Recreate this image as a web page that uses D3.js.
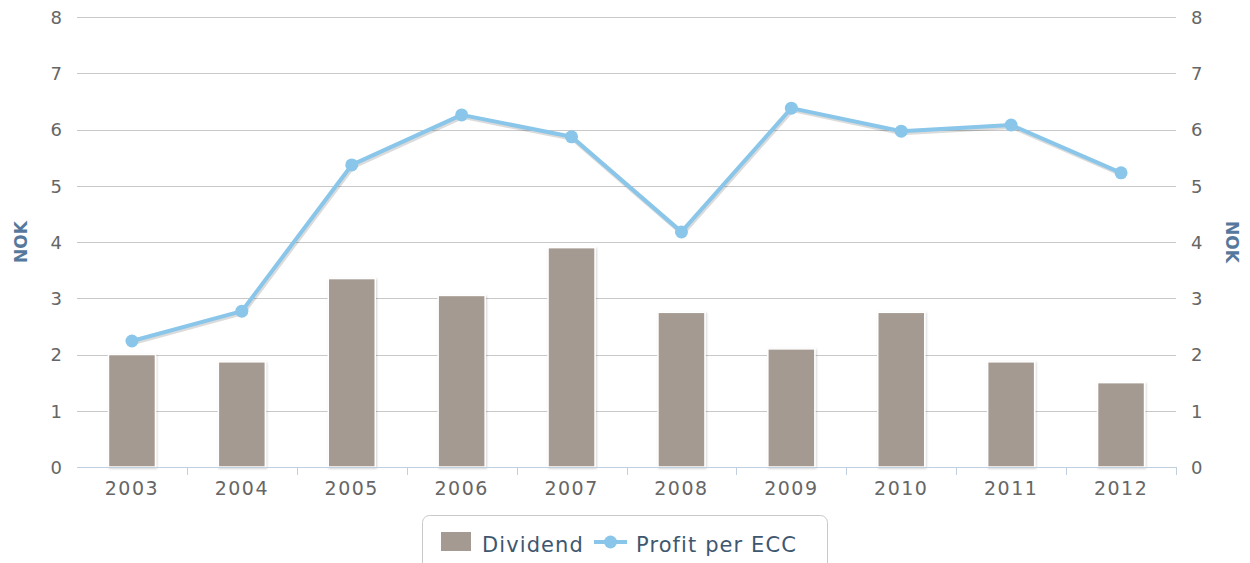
<!DOCTYPE html>
<html>
<head>
<meta charset="utf-8">
<script src="https://cdn.jsdelivr.net/npm/d3@7/dist/d3.min.js"></script>
<style>
  html, body { margin: 0; padding: 0; background: #fff; }
  svg { display: block; font-family: "DejaVu Sans", sans-serif; }
</style>
</head>
<body>
<svg id="chart" width="1250" height="563"></svg>
<script>
// Yearly figures, in NOK
const years = ["2003", "2004", "2005", "2006", "2007", "2008", "2009", "2010", "2011", "2012"];
const dividend = [2.0, 1.87, 3.35, 3.05, 3.9, 2.75, 2.1, 2.75, 1.87, 1.5];
const profitPerECC = [2.24, 2.77, 5.37, 6.26, 5.87, 4.18, 6.38, 5.97, 6.08, 5.23];
const yTicks = [0, 1, 2, 3, 4, 5, 6, 7, 8];
const seriesNames = ["Dividend", "Profit per ECC"];

const barColor = "#a59a91";
const lineColor = "#89c6e9";

const svg = d3.select("#chart");
const plot = { left: 77, right: 1176, top: 17, bottom: 467 };

const x = d3.scaleBand().domain(years).range([plot.left, plot.right]).paddingInner(0).paddingOuter(0);
const y = d3.scaleLinear().domain([0, 8]).range([plot.bottom, plot.top]);

// Shadow filters
const defs = svg.append("defs");
const f = defs.append("filter").attr("id", "barShadow").attr("x", "-20%").attr("y", "-20%").attr("width", "140%").attr("height", "140%");
f.append("feDropShadow").attr("dx", 1).attr("dy", 1).attr("stdDeviation", 1.2).attr("flood-color", "#000").attr("flood-opacity", 0.18);

// Gridlines
svg.append("g")
  .selectAll("line").data(yTicks.filter(d => d > 0)).join("line")
  .attr("x1", plot.left).attr("x2", plot.right)
  .attr("y1", d => Math.round(y(d)) + 0.5).attr("y2", d => Math.round(y(d)) + 0.5)
  .attr("stroke", "#c8c8c8").attr("stroke-width", 1);

// Left and right value axes (labels only)
const leftAxis = d3.axisLeft(y).tickValues(yTicks).tickSize(0).tickPadding(0);
const gl = svg.append("g").attr("transform", `translate(${plot.left - 15},0)`).call(leftAxis);
gl.select(".domain").remove();
gl.selectAll("text").attr("font-size", 18).attr("fill", "#666").attr("font-family", "DejaVu Sans, sans-serif").attr("dy", "0.36em");

const rightAxis = d3.axisRight(y).tickValues(yTicks).tickSize(0).tickPadding(0);
const gr = svg.append("g").attr("transform", `translate(${plot.right + 15},0)`).call(rightAxis);
gr.select(".domain").remove();
gr.selectAll("text").attr("font-size", 18).attr("fill", "#666").attr("font-family", "DejaVu Sans, sans-serif").attr("dy", "0.36em");

// Axis titles
svg.append("text")
  .attr("transform", `translate(27,${(plot.top + plot.bottom) / 2}) rotate(-90)`)
  .attr("text-anchor", "middle").attr("font-size", 17).attr("font-weight", "bold")
  .attr("fill", "#56789c").text("NOK");
svg.append("text")
  .attr("transform", `translate(1226,${(plot.top + plot.bottom) / 2}) rotate(90)`)
  .attr("text-anchor", "middle").attr("font-size", 17).attr("font-weight", "bold")
  .attr("fill", "#56789c").text("NOK");

// Bars
const barW = 47;
svg.append("g").attr("filter", "url(#barShadow)")
  .selectAll("rect").data(years).join("rect")
  .attr("x", d => x(d) + x.bandwidth() / 2 - barW / 2)
  .attr("width", barW)
  .attr("y", (d, i) => y(dividend[i]))
  .attr("height", (d, i) => y(0) - y(dividend[i]))
  .attr("fill", barColor)
  .attr("stroke", "#fff").attr("stroke-width", 1.5);

// Category axis
const xAxis = d3.axisBottom(x).tickSize(0).tickPadding(0);
const gx = svg.append("g").attr("transform", `translate(0,${plot.bottom})`).call(xAxis);
gx.select(".domain").attr("stroke", "#c0d0e0").attr("d", `M${plot.left},0.5H${plot.right}`);
gx.selectAll("text").attr("font-size", 19).attr("fill", "#666").attr("letter-spacing", "1.5px")
  .attr("font-family", "DejaVu Sans, sans-serif").attr("y", 15);
// tick marks between categories
gx.append("g").selectAll("line").data(years.slice(1).concat(["__end"])).join("line")
  .attr("x1", (d, i) => Math.round(plot.left + x.bandwidth() * (i + 1)) + 0.5)
  .attr("x2", (d, i) => Math.round(plot.left + x.bandwidth() * (i + 1)) + 0.5)
  .attr("y1", 0).attr("y2", 8)
  .attr("stroke", "#c0d0e0");

// Line with shadow
const line = d3.line().x((d, i) => x(years[i]) + x.bandwidth() / 2).y(d => y(d));
svg.append("path").datum(profitPerECC)
  .attr("d", line).attr("transform", "translate(1,1.5)")
  .attr("fill", "none").attr("stroke", "#000").attr("stroke-opacity", 0.14).attr("stroke-width", 5)
  .attr("stroke-linejoin", "round");
svg.append("path").datum(profitPerECC)
  .attr("d", line)
  .attr("fill", "none").attr("stroke", lineColor).attr("stroke-width", 4)
  .attr("stroke-linejoin", "round");
svg.append("g").selectAll("circle").data(profitPerECC).join("circle")
  .attr("cx", (d, i) => x(years[i]) + x.bandwidth() / 2)
  .attr("cy", d => y(d))
  .attr("r", 6.5)
  .attr("fill", lineColor);

// Legend
const lg = svg.append("g");
lg.append("rect").attr("x", 422.5).attr("y", 515.5).attr("width", 405).attr("height", 60)
  .attr("rx", 7).attr("fill", "#fff").attr("stroke", "#c8c8c8");
lg.append("rect").attr("x", 441).attr("y", 532).attr("width", 30).attr("height", 19).attr("fill", barColor);
lg.append("text").attr("x", 482).attr("y", 552).attr("font-size", 21).attr("fill", "#3e576f")
  .attr("letter-spacing", "1.1px").text(seriesNames[0]);
lg.append("line").attr("x1", 594).attr("x2", 627).attr("y1", 542).attr("y2", 542)
  .attr("stroke", lineColor).attr("stroke-width", 4);
lg.append("circle").attr("cx", 610.5).attr("cy", 542).attr("r", 6.5).attr("fill", lineColor);
lg.append("text").attr("x", 636).attr("y", 552).attr("font-size", 21).attr("fill", "#3e576f")
  .attr("letter-spacing", "1.1px").text(seriesNames[1]);
</script>
</body>
</html>
